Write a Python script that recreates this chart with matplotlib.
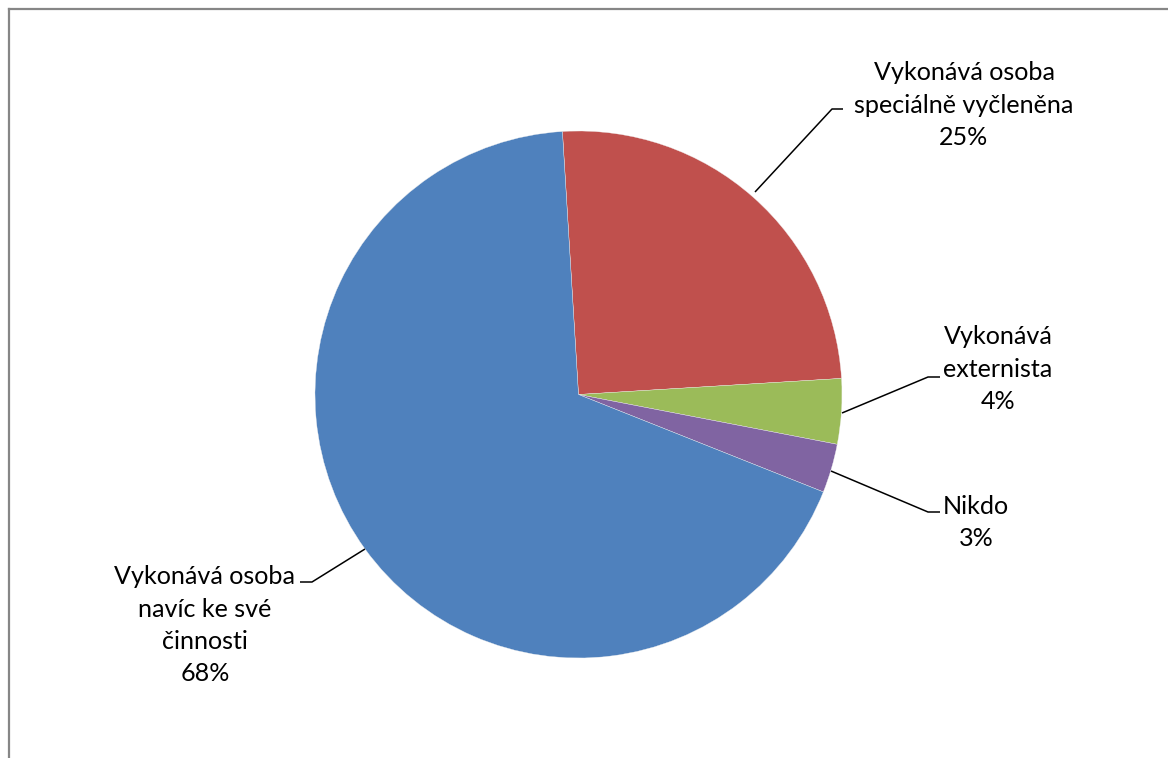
import matplotlib
matplotlib.use("Agg")
import matplotlib.pyplot as plt
from matplotlib.lines import Line2D

# Who performs the task – share of respondents
categories = [
    "Vykonává osoba\nspeciálně vyčleněna",
    "Vykonává\nexternista",
    "Nikdo",
    "Vykonává osoba\nnavíc ke své\nčinnosti",
]
shares = [25, 4, 3, 68]
colors = ["#C0504D", "#9BBB59", "#8064A2", "#4F81BD"]

W, H = 1168, 758
plt.rcParams["font.family"] = ["Lato", "DejaVu Sans"]

fig = plt.figure(figsize=(W / 100, H / 100), dpi=100)
ax = fig.add_axes([0, 0, 1, 1])

cx, cy, r = 578.5, H - 394.5, 263.5
wedges, _ = ax.pie(
    shares,
    colors=colors,
    startangle=93.5,
    counterclock=False,
    center=(cx, cy),
    radius=r,
    wedgeprops=dict(edgecolor="#f0f0f0", linewidth=0.25),
)
ax.set_xlim(0, W)
ax.set_ylim(0, H)
ax.set_aspect("equal")
ax.axis("off")

# label block centres (x, y of first line) and leader line paths, in pixels
label_pos = [(964, 73), (998, 337), (976, 506), (205, 577)]
leaders = [
    [(755, 192), (832, 109), (843, 109)],
    [(842, 413), (928, 377), (940, 377)],
    [(831, 471), (928, 512), (940, 512)],
    [(365, 549), (312, 582), (300, 582)],
]
line_gap = 32.3

for cat, val, (lx, ly) in zip(categories, shares, label_pos):
    lines = cat.split("\n") + [f"{val}%"]
    for i, t in enumerate(lines):
        ax.text(lx, H - (ly + i * line_gap), t, ha="center", va="center",
                fontsize=18.1, color="black")

for path in leaders:
    xs = [p[0] for p in path]
    ys = [H - p[1] for p in path]
    ax.plot(xs, ys, color="black", linewidth=1.1, solid_capstyle="butt")

# chart area border (left and top edges visible)
fig.add_artist(Line2D([8.5 / W, 8.5 / W], [0, 1 - 8.5 / H], color="#868686",
                      linewidth=1.6, transform=fig.transFigure))
fig.add_artist(Line2D([8.5 / W, 1], [1 - 8.5 / H, 1 - 8.5 / H], color="#868686",
                      linewidth=1.6, transform=fig.transFigure))

fig.savefig("out.png", dpi=100, facecolor="white")
